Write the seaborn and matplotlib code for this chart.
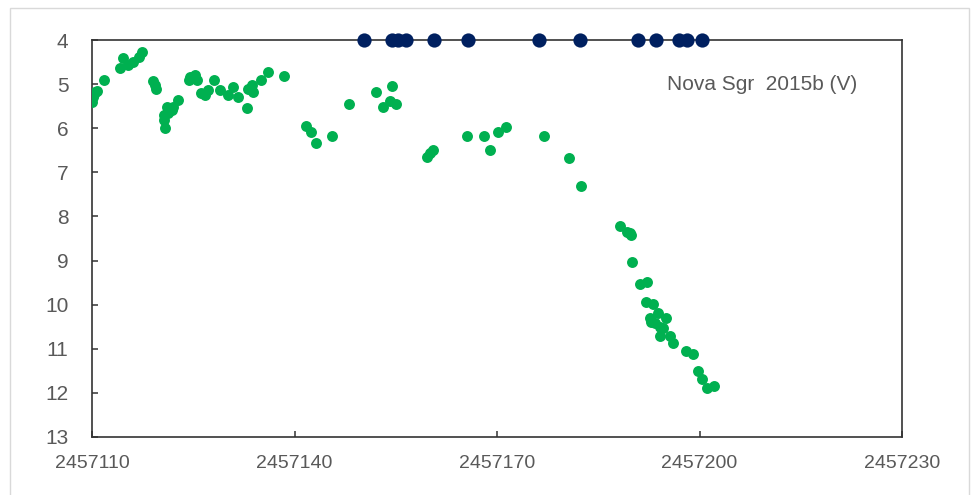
import matplotlib
matplotlib.use("Agg")
import matplotlib.pyplot as plt
import seaborn as sns
import pandas as pd
from matplotlib.patches import Rectangle

# ---- data ----
green_jd = [2457110.0, 2457110.1, 2457110.3, 2457110.5, 2457110.7, 2457111.8,
            2457114.1, 2457114.6, 2457115.4, 2457116.1, 2457116.9, 2457117.4,
            2457119.1, 2457119.3, 2457119.5, 2457120.6, 2457120.8, 2457120.6,
            2457121.1, 2457121.3, 2457121.8, 2457122.0, 2457122.8, 2457124.3,
            2457124.5, 2457125.3, 2457125.5, 2457126.2, 2457126.7, 2457127.2,
            2457128.1, 2457129.0, 2457130.2, 2457130.9, 2457131.7, 2457132.9,
            2457133.1, 2457133.7, 2457133.9, 2457135.1, 2457136.1, 2457138.4,
            2457141.7, 2457142.5, 2457143.2, 2457145.6, 2457148.0, 2457152.1,
            2457153.1, 2457154.1, 2457154.5, 2457155.1, 2457159.6, 2457160.1,
            2457160.5, 2457165.5, 2457168.1, 2457169.0, 2457170.2, 2457171.4,
            2457177.0, 2457180.6, 2457182.5, 2457188.2, 2457189.2, 2457189.7,
            2457189.8, 2457190.0, 2457191.2, 2457192.2, 2457192.1, 2457193.1,
            2457192.7, 2457192.8, 2457193.9, 2457195.1, 2457193.4, 2457194.1,
            2457194.6, 2457194.1, 2457195.6, 2457196.0, 2457198.0, 2457199.1,
            2457199.8, 2457200.3, 2457201.1, 2457202.1]
green_mag = [5.40, 5.30, 5.22, 5.18, 5.15, 4.91,
             4.64, 4.40, 4.57, 4.49, 4.38, 4.28,
             4.93, 5.02, 5.11, 5.81, 6.00, 5.70,
             5.51, 5.66, 5.59, 5.51, 5.36, 4.91,
             4.85, 4.79, 4.91, 5.21, 5.25, 5.13,
             4.91, 5.13, 5.25, 5.06, 5.29, 5.55,
             5.10, 5.02, 5.17, 4.91, 4.72, 4.82,
             5.95, 6.08, 6.33, 6.18, 5.45, 5.18,
             5.51, 5.38, 5.04, 5.46, 6.66, 6.57,
             6.49, 6.18, 6.18, 6.49, 6.09, 5.97,
             6.18, 6.67, 7.31, 8.22, 8.35, 8.38,
             8.42, 9.04, 9.54, 9.48, 9.95, 9.99,
             10.30, 10.39, 10.20, 10.30, 10.42, 10.50,
             10.54, 10.71, 10.71, 10.86, 11.05, 11.12,
             11.50, 11.69, 11.90, 11.85]

navy_jd = [2457150.3, 2457154.4, 2457155.3, 2457156.5, 2457160.7, 2457165.7,
           2457176.2, 2457182.3, 2457190.9, 2457193.6, 2457197.0, 2457198.1,
           2457200.4]
navy_mag = [4.0] * len(navy_jd)

x_ticks = [2457110, 2457140, 2457170, 2457200, 2457230]
x_tick_labels = ["2457110", "2457140", "2457170", "2457200", "2457230"]
y_ticks = [4, 5, 6, 7, 8, 9, 10, 11, 12, 13]
label_text = "Nova Sgr  2015b (V)"

green_df = pd.DataFrame({"jd": green_jd, "mag": green_mag})
navy_df = pd.DataFrame({"jd": navy_jd, "mag": navy_mag})

# ---- figure ----
sns.set_theme(style="white")
plt.rcParams["font.family"] = ["Liberation Sans", "DejaVu Sans"]

fig = plt.figure(figsize=(9.74, 4.95), dpi=100)
fig.patch.set_facecolor("white")
fig.patches.append(Rectangle((10 / 974, -0.01), 959 / 974, 1 - 8 / 495 + 0.01,
                             transform=fig.transFigure, fill=False,
                             edgecolor="#d9d9d9", linewidth=1.0))

ax = fig.add_axes([92 / 974, (495 - 437) / 495, 810 / 974, 397 / 495])

sns.scatterplot(data=green_df, x="jd", y="mag", ax=ax, color="#00b050",
                s=62, linewidth=0, zorder=3)
sns.scatterplot(data=navy_df, x="jd", y="mag", ax=ax, color="#002060",
                s=105, linewidth=0, zorder=4, clip_on=False)

ax.set_xlim(2457110, 2457230)
ax.set_ylim(13, 4)
ax.set_xticks(x_ticks)
ax.set_xticklabels(x_tick_labels)
ax.set_yticks(y_ticks)
ax.set_yticklabels([str(v) for v in y_ticks])
ax.set_xlabel("")
ax.set_ylabel("")

for sp in ax.spines.values():
    sp.set_color("#333333")
    sp.set_linewidth(1.2)
    sp.set_visible(True)

ax.tick_params(axis="both", direction="in", length=4, width=1.1,
               color="#333333", labelcolor="#595959")
ax.tick_params(axis="x", pad=13, bottom=True, labelsize=14)
ax.tick_params(axis="y", pad=17, left=True, labelsize=15)

ax.text(2457195.2, 5.02, label_text, ha="left", va="center",
        fontsize=15, color="#595959")

fig.savefig("out.png", dpi=100, facecolor="white")
